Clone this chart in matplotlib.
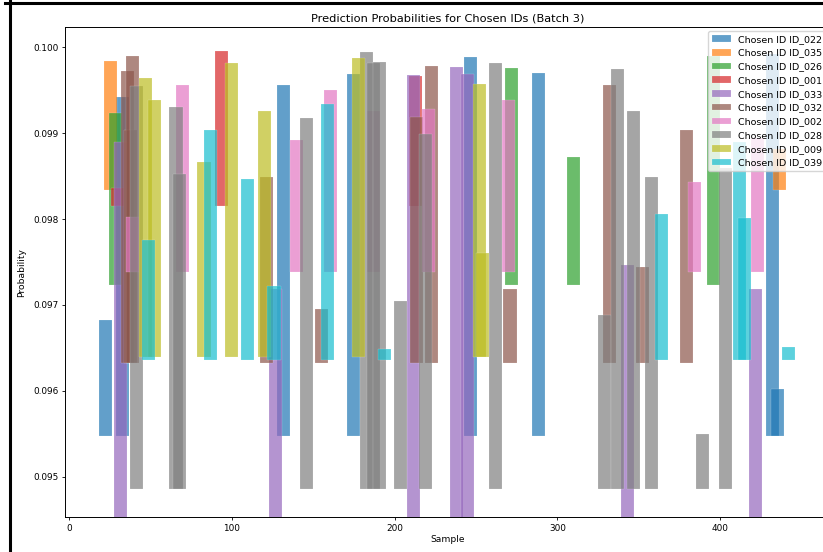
import matplotlib
matplotlib.use("Agg")
import matplotlib.pyplot as plt
from matplotlib.lines import Line2D

# chosen ids, in legend order
ids = ["ID_022", "ID_035", "ID_026", "ID_001", "ID_033",
       "ID_032", "ID_002", "ID_028", "ID_009", "ID_039"]

# lowest probability of each id (bars start there)
base = [0.09548, 0.09834, 0.09723, 0.09815, 0.0940,
        0.09633, 0.09738, 0.09486, 0.09639, 0.09636]

# sample index / probability for every id
samples_022 = [22.6, 32.9, 131.7, 174.8, 246.9, 288.2, 432.3, 435.1]
probs_022 = [0.09683, 0.09942, 0.09956, 0.09969, 0.09988, 0.09970, 0.09992, 0.09602]

samples_035 = [25.6, 436.2]
probs_035 = [0.09984, 0.09881]

samples_026 = [28.6, 272.1, 310.1, 396.0]
probs_026 = [0.09923, 0.09976, 0.09872, 0.09990]

samples_001 = [29.6, 93.8, 212.7]
probs_001 = [0.09836, 0.09995, 0.09966]

samples_033 = [31.6, 126.8, 211.9, 238.0, 244.9, 343.0, 422.0]
probs_033 = [0.09890, 0.09718, 0.09967, 0.09977, 0.09969, 0.09746, 0.09718]

samples_032 = [35.8, 37.5, 38.7, 121.0, 155.0, 213.7, 222.9, 270.9, 332.0, 352.3, 379.1]
probs_032 = [0.09972, 0.09904, 0.09990, 0.09849, 0.09695, 0.09919, 0.09978,
             0.09718, 0.09956, 0.09744, 0.09903]

samples_002 = [39.0, 69.9, 139.8, 160.8, 187.0, 220.7, 269.9, 384.1, 423.0]
probs_002 = [0.09802, 0.09956, 0.09892, 0.09950, 0.09926, 0.09928, 0.09938,
             0.09843, 0.09894]

samples_028 = [41.6, 65.7, 67.7, 145.8, 182.8, 186.8, 190.9, 203.9, 219.0,
               262.0, 329.0, 337.0, 347.0, 358.1, 389.3, 403.2]
probs_028 = [0.09955, 0.09930, 0.09852, 0.09917, 0.09994, 0.09981, 0.09983,
             0.09705, 0.09899, 0.09981, 0.09688, 0.09974, 0.09926, 0.09849,
             0.09550, 0.09859]

samples_009 = [46.7, 52.7, 82.9, 99.8, 119.8, 177.7, 251.9, 254.2]
probs_009 = [0.09964, 0.09939, 0.09866, 0.09982, 0.09926, 0.09987, 0.09957, 0.09761]

samples_039 = [48.9, 86.9, 109.8, 125.9, 158.8, 193.7, 364.0, 412.1, 415.1, 442.2]
probs_039 = [0.09776, 0.09904, 0.09847, 0.09722, 0.09934, 0.09649, 0.09806,
             0.09890, 0.09801, 0.09651]

samples = [samples_022, samples_035, samples_026, samples_001, samples_033,
           samples_032, samples_002, samples_028, samples_009, samples_039]
probs = [probs_022, probs_035, probs_026, probs_001, probs_033,
         probs_032, probs_002, probs_028, probs_009, probs_039]

colors = plt.get_cmap("tab10").colors

fig = plt.figure(figsize=(8.23, 5.52), dpi=100)
ax = fig.add_axes([65 / 823, 34.7 / 552, 765 / 823, 490 / 552])

for i in range(len(ids)):
    heights = [p - base[i] for p in probs[i]]
    ax.bar(samples[i], heights, bottom=base[i], width=8, color=colors[i],
           alpha=0.7, edgecolor="white", linewidth=0.15,
           label="Chosen ID " + ids[i])

ax.set_xlim(-2.5, 467.5)
ax.set_ylim(0.09453, 0.10023)
ax.set_xticks([0, 100, 200, 300, 400])
ax.set_yticks([0.095, 0.096, 0.097, 0.098, 0.099, 0.100])
ax.set_yticklabels(["0.095", "0.096", "0.097", "0.098", "0.099", "0.100"])
ax.tick_params(labelsize=6.4, length=2.5, width=0.6, pad=2)
for s in ax.spines.values():
    s.set_linewidth(0.7)

ax.set_title("Prediction Probabilities for Chosen IDs (Batch 3)", fontsize=8.2, pad=4)
ax.set_xlabel("Sample", fontsize=6.6, labelpad=2)
ax.set_ylabel("Probability", fontsize=6.6, labelpad=5)
ax.legend(loc="upper right", fontsize=6.8, borderaxespad=0.4)

# notebook frame around the output
fig.add_artist(Line2D([10 / 823, 10 / 823], [0, 1], transform=fig.transFigure,
                      color="black", lw=2.2))
fig.add_artist(Line2D([5 / 823, 1], [1 - 2.5 / 552, 1 - 2.5 / 552],
                      transform=fig.transFigure, color="black", lw=2.2))

fig.savefig("out.png", dpi=100)
